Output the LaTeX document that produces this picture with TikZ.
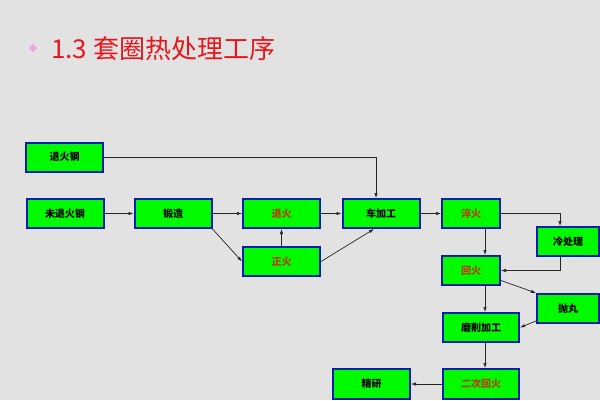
\documentclass[tikz,border=0pt]{standalone}
\usepackage{fontspec}
\newfontfamily\cjk{Noto Sans CJK SC}
\usetikzlibrary{arrows.meta,calc}
\definecolor{marble}{RGB}{226,226,226}
\definecolor{boxgreen}{RGB}{0,250,0}
\definecolor{boxblue}{RGB}{10,30,170}
\definecolor{heat}{RGB}{185,60,10}
\definecolor{titlered}{RGB}{232,22,28}
\definecolor{dotpink}{RGB}{236,165,222}
\tikzset{
    box/.style={draw=boxblue,line width=2pt,fill=boxgreen,minimum width=77pt,minimum height=29pt,inner sep=0pt,font=\cjk\bfseries\fontsize{10}{12}\selectfont},
    narrow/.style={minimum width=58pt},
    hot/.style={text=heat},
    link/.style={draw=black!85,line width=0.7pt,-{Latex[length=5pt,width=3.5pt]}}
}
\begin{document}
\begin{tikzpicture}[x=1pt,y=-1pt]
    \fill[marble] (0,0) rectangle (600,400);
    \fill[dotpink] (33,44) -- (37,48) -- (33,52) -- (29,48) -- cycle;
    \node[anchor=base west,inner sep=0pt,text=titlered,font=\cjk\fontsize{26}{30}\selectfont] (title) at (51,58) {1.3 套圈热处理工序};

    \node[box] (tuihuogang) at (64.5,157) {退火钢};
    \node[box] (weituihuo) at (65,213.5) {未退火钢};
    \node[box] (duanzao) at (173,213.5) {锻造};
    \node[box,hot] (tuihuo) at (281.5,213.5) {退火};
    \node[box,hot] (zhenghuo) at (281.5,261.5) {正火};
    \node[box] (chejiagong) at (381,213.5) {车加工};
    \node[box,narrow,hot] (cuihuo) at (471,213.5) {淬火};
    \node[box,minimum width=62pt] (lengchuli) at (568,241.5) {冷处理};
    \node[box,narrow,hot] (huihuo) at (471,270.5) {回火};
    \node[box,minimum width=62pt] (paowan) at (568,308.5) {抛丸};
    \node[box,minimum width=76pt] (moxue) at (481,327.5) {磨削加工};
    \node[box,minimum width=76pt,minimum height=30pt,hot] (erci) at (481,384) {二次回火};
    \node[box,minimum height=30pt] (jingyan) at (371.5,384) {精研};

    \coordinate (cheline) at (376,0);
    \coordinate (midline) at (485,0);
    \coordinate (lengline) at (560,0);

    \draw[link] (tuihuogang.east) -| (chejiagong.north -| cheline);
    \draw[link] (weituihuo) -- (duanzao);
    \draw[link] (duanzao) -- (tuihuo);
    \draw[link] (duanzao.south east) -- (zhenghuo.west);
    \draw[link] (zhenghuo) -- (tuihuo);
    \draw[link] (tuihuo) -- (chejiagong);
    \draw[link] (zhenghuo.east) -- ($(chejiagong.south)+(-7,0)$);
    \draw[link] (chejiagong) -- (cuihuo);
    \draw[link] (cuihuo.east) -| (lengchuli.north -| lengline);
    \draw[link] (cuihuo.south -| midline) -- (huihuo.north -| midline);
    \draw[link] (lengchuli.south -| lengline) |- (huihuo.east);
    \draw[link] ($(huihuo.east)+(0,10)$) -- (paowan.north west);
    \draw[link] (huihuo.south -| midline) -- (moxue.north -| midline);
    \draw[link] ($(paowan.south west)+(0,-3)$) -- (moxue.east);
    \draw[link] (moxue.south -| midline) -- (erci.north -| midline);
    \draw[link] (erci) -- (jingyan);
\end{tikzpicture}
\end{document}
